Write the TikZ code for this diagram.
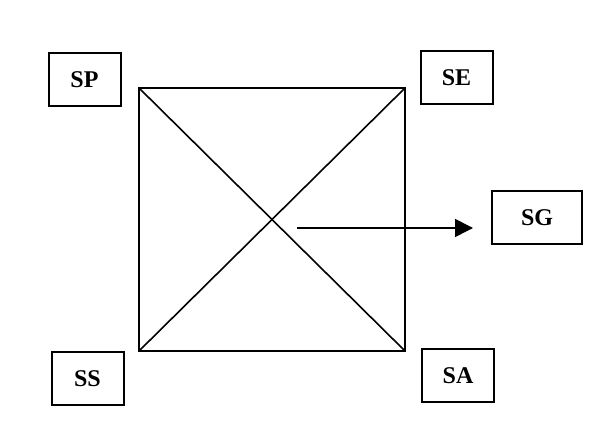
\documentclass[tikz,border=0pt]{standalone}
\usepackage{fontspec}
\setmainfont{Liberation Serif}
\usetikzlibrary{arrows.meta}
\tikzstyle{sbox} = [draw, line width=1pt, minimum width=36pt, minimum height=26.5pt, inner sep=0pt, font=\fontsize{12}{14}\selectfont\bfseries]
\tikzstyle{arrow} = [draw, line width=0.8pt, -{Triangle[length=9pt, width=9pt]}]

\begin{document}
\begin{tikzpicture}[x=0.5pt, y=-0.5pt]
\useasboundingbox (0,0) rectangle (614,431);

\coordinate (nw) at (139,88);
\coordinate (ne) at (405,88);
\coordinate (se) at (405,351);
\coordinate (sw) at (139,351);

\draw [line width=0.8pt] (nw) -- (ne) -- (se) -- (sw) -- cycle;
\draw [line width=0.8pt] (nw) -- (se);
\draw [line width=0.8pt] (ne) -- (sw);

\node [sbox] at (84.5, 79.5) (SP) {SP};
\node [sbox] at (456.5, 77.5) (SE) {SE};
\node [sbox, minimum width=45pt] at (537, 217.5) (SG) {SG};
\node [sbox] at (87.5, 378.5) (SS) {SS};
\node [sbox] at (458, 376) (SA) {SA};

\coordinate (start) at (297,228);
\path [arrow] (start) -- ([xshift=-9pt, yshift=-5.25pt]SG.west);
\end{tikzpicture}
\end{document}
